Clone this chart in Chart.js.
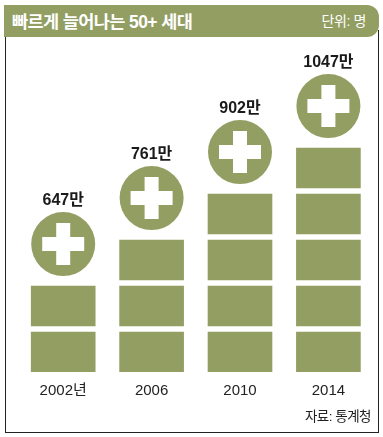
<!DOCTYPE html>
<html lang="ko">
<head>
<meta charset="utf-8">
<script src="https://cdn.jsdelivr.net/npm/chart.js@4"></script>
<style>
  html, body { margin: 0; padding: 0; background: #fff; }
  body { width: 383px; height: 437px; position: relative; overflow: hidden;
         font-family: "Liberation Sans", "Noto Sans CJK KR", sans-serif; }
  #frame { position: absolute; left: 5px; top: 30px; width: 372px; height: 402px;
           border: 1px solid #222; border-top: 0; }
  #head { position: absolute; left: 4px; top: 5px; width: 375px; height: 32px; background: #939e63;
          border-radius: 0 12px 12px 0; color: #fff; }
  #title { position: absolute; left: 8px; top: 7px; font-size: 17.5px; font-weight: bold; letter-spacing: -0.6px; line-height: 20px; white-space: nowrap; }
  #unit { position: absolute; right: 13px; top: 7px; font-size: 14px; line-height: 19px; letter-spacing: -0.4px; white-space: nowrap; }
  #source { position: absolute; right: 12px; top: 408px; font-size: 13.5px; line-height: 18px; color: #222; letter-spacing: -0.5px; white-space: nowrap; }
  canvas { position: absolute; left: 0; top: 0; }
</style>
</head>
<body>
<div id="frame"></div>
<div id="head"><span id="title">빠르게 늘어나는 50+ 세대</span><span id="unit">단위: 명</span></div>
<canvas id="chart" width="383" height="437"></canvas>
<div id="source">자료: 통계청</div>
<script>
var years = ['2002년', '2006', '2010', '2014'];
var people = [647, 761, 902, 1047];
var blocks = [2, 3, 4, 5];

var green = '#939e63';
var blockSize = 0.87;
var circleLift = 0.78;
var fontStack = '"Liberation Sans", "Noto Sans CJK KR", sans-serif';

// one dataset per row of blocks, rows float so the white gap stays
var datasets = [];
for (var row = 0; row < Math.max.apply(null, blocks); row++) {
  datasets.push({
    type: 'bar',
    backgroundColor: green,
    barThickness: 64,
    data: blocks.map(function (n) {
      return row < n ? [row, row + blockSize] : null;
    })
  });
}

var tops = blocks.map(function (n) { return n + circleLift; });

datasets.push({
  type: 'line',
  showLine: false,
  order: -1,
  data: tops,
  pointStyle: 'cross',
  pointRadius: 21,
  pointBorderWidth: 14,
  pointBorderColor: '#fff',
  pointBackgroundColor: '#fff'
});
datasets.push({
  type: 'line',
  showLine: false,
  order: 0,
  data: tops,
  pointStyle: 'circle',
  pointRadius: 32,
  pointBorderWidth: 0,
  pointBackgroundColor: green
});

var valueLabels = {
  id: 'valueLabels',
  afterDatasetsDraw: function (chart) {
    var c = chart.ctx;
    c.save();
    c.font = 'bold 16px ' + fontStack;
    c.fillStyle = '#1a1a1a';
    c.textAlign = 'center';
    c.textBaseline = 'middle';
    people.forEach(function (v, i) {
      c.fillText(v + '만', chart.scales.x.getPixelForValue(i), chart.scales.y.getPixelForValue(tops[i]) - 44);
    });
    c.restore();
  }
};

new Chart('chart', {
  type: 'bar',
  data: { labels: years, datasets: datasets },
  plugins: [valueLabels],
  options: {
    responsive: false,
    animation: false,
    layout: { autoPadding: false, padding: { left: 19, right: 10.4, top: 40, bottom: 0 } },
    plugins: { legend: { display: false }, tooltip: { enabled: false } },
    scales: {
      x: {
        stacked: true,
        grid: { display: false },
        border: { display: false },
        afterFit: function (scale) { scale.height = 65; },
        ticks: { color: '#222', padding: 2, maxRotation: 0, font: { family: fontStack, size: 15 } }
      },
      y: { display: false, min: 0, max: 7.217 }
    }
  }
});
</script>
</body>
</html>
